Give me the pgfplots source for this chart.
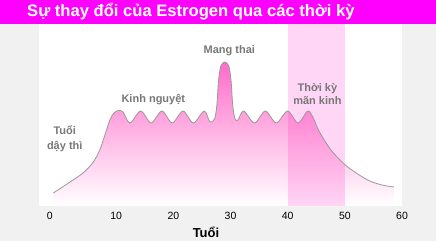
\documentclass[border=0pt]{standalone}
\usepackage{pgfplots}
\pgfplotsset{compat=1.18}
\usepackage{pgfplotstable}
\usepackage{fontspec}
\setmainfont{Liberation Sans}
\definecolor{bgg}{HTML}{F1F1F1}
\definecolor{titlemag}{HTML}{FF00FF}
\definecolor{bandpink}{HTML}{FFD6F5}
\definecolor{curvepink}{HTML}{FF6CCA}
\definecolor{linegray}{HTML}{999999}
\definecolor{labgray}{HTML}{787878}
\pgfplotstableread{
x y
-1.0 13
1.4 22
4.2 33
6.0 44
7.2 57
8.2 74
8.9 86
9.6 93
10.4 95.5
11.2 94
12.4 83
14.3 95
16.1 83
18.0 95
19.8 83
21.7 95
23.5 83
25.4 95
26.4 84
27.2 87
27.6 100
27.9 125
28.3 140
29.0 144
29.7 140
30.1 125
30.4 100
30.8 87
31.3 86
32.3 95
34.2 83
36.1 95
38.0 83
40.0 95
41.8 83
43.5 95
44.4 89
45.3 77
46.5 65
48.0 53
50.5 39
54.0 26
56.5 21
58.6 19
}\curve
\begin{document}
\begin{tikzpicture}[x=1pt,y=1pt]
\fill[bgg] (0,0) rectangle (436,241);
\fill[titlemag] (0,217) rectangle (436,241);
\node[anchor=base west, inner sep=0, text=white, font=\fontsize{16.6}{19}\selectfont\bfseries] at (27,224) {Sự thay đổi của Estrogen qua các thời kỳ};
\node[anchor=base, inner sep=0, text=black, font=\fontsize{13}{15}\selectfont\bfseries] at (206,3.5) {Tuổi};
\begin{axis}[at={(39pt,35pt)}, anchor=south west, scale only axis,
  width=363pt, height=182pt, xmin=-3.5, xmax=60, ymin=0, ymax=182,
  axis background/.style={fill=white}, axis line style={draw=none},
  ytick=\empty, xtick={-1.6,10,20,30,40,50,60},
  xticklabels={0,10,20,30,40,50,60}, major tick length=0pt,
  /pgf/number format/assume math mode=true,
  tick label style={font=\fontsize{10.5}{12}\selectfont, text=black},
  xticklabel style={yshift=-3pt}, clip=false]
\addplot[draw=none, top color=curvepink, bottom color=white, smooth] table[x=x,y=y] {\curve} \closedcycle;
\addplot[fill=bandpink, draw=none, blend mode=multiply] coordinates {(40,182) (50,182)} \closedcycle;
\addplot[draw=linegray, line width=0.8pt, smooth] table[x=x,y=y] {\curve};
\node[align=center, text=labgray, font=\fontsize{11}{15}\selectfont\bfseries] at (axis cs:1.0,67) {Tuổi\\dậy thì};
\node[text=labgray, font=\fontsize{11}{15}\selectfont\bfseries] at (axis cs:16.5,106) {Kinh nguyệt};
\node[text=labgray, font=\fontsize{11}{15}\selectfont\bfseries] at (axis cs:29.8,155) {Mang thai};
\node[align=center, text=labgray, font=\fontsize{11}{13}\selectfont\bfseries] at (axis cs:45.2,112) {Thời kỳ\\mãn kinh};
\end{axis}
\end{tikzpicture}
\end{document}
